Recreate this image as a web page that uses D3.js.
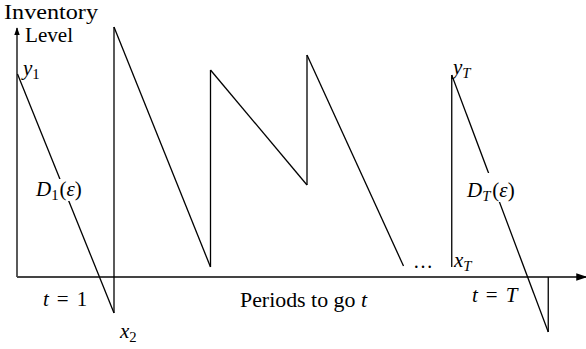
<!DOCTYPE html>
<html>
<head>
<meta charset="utf-8">
<script src="https://cdn.jsdelivr.net/npm/d3@7"></script>
<style>
  html, body { margin: 0; padding: 0; background: #fff; }
  svg { display: block; }
</style>
</head>
<body>
<svg id="chart" width="586" height="349" font-family="'Liberation Serif', 'DejaVu Serif', serif"></svg>
<script>
// Inventory trajectory over the planning horizon (periods counted as t).
// Each period starts at its order-up-to level and is depleted by demand.
const periodStart    = [0, 1, 2, 3, 4.5];
const periodEnd      = [1, 2, 3, 4, 5.5];
const orderUpTo      = [101.5, 125, 103.5, 111, 101];   // y_1 ... y_T
const endInventory   = [-18, 5, 46, 5.5, -27.5];        // x_2 ... x_{T+1}
const startInventory = [null, -18, 5, 46, 5];           // level before ordering (x_T = 5)

const svg = d3.select("#chart");

const x = d3.scaleLinear().domain([0, 1]).range([17.5, 114]);
const y = d3.scaleLinear().domain([0, 100]).range([277, 77]);

// axes
const axisColor = "#444";
svg.append("defs").append("marker")
  .attr("id", "arrow").attr("viewBox", "0 0 10 10")
  .attr("refX", 9).attr("refY", 5)
  .attr("markerWidth", 6).attr("markerHeight", 6)
  .attr("orient", "auto")
  .append("path").attr("d", "M0,1.5 L10,5 L0,8.5 Z").attr("fill", "#000");

svg.append("line")
  .attr("x1", 17).attr("y1", y(0)).attr("x2", 17).attr("y2", 28)
  .attr("stroke", "#000").attr("stroke-width", 1.3)
  .attr("marker-end", "url(#arrow)");
svg.append("line")
  .attr("x1", 17).attr("y1", y(0)).attr("x2", 586).attr("y2", y(0))
  .attr("stroke", axisColor).attr("stroke-width", 1.8)
  .attr("marker-end", "url(#arrow)");

// sawtooth path: replenishment jumps (vertical) followed by depletion (sloped)
const line = d3.line().x(d => x(d[0])).y(d => y(d[1]));
const g = svg.append("g").attr("fill", "none").attr("stroke", "#000").attr("stroke-width", 1.3);

periodStart.forEach((t0, i) => {
  if (startInventory[i] !== null) {
    g.append("path").attr("d", line([[t0, startInventory[i]], [t0, orderUpTo[i]]]));
  }
  g.append("path").attr("d", line([[t0, orderUpTo[i]], [periodEnd[i], endInventory[i]]]));
});
// final period closes back up to the axis
const last = periodEnd.length - 1;
g.append("path").attr("d", line([[periodEnd[last], endInventory[last]], [periodEnd[last], 0]]));

// math-style labels
function mathLabel(px, py, parts, opts = {}) {
  const fs = opts.size || 21;
  const t = svg.append("text").attr("x", px).attr("y", py).attr("font-size", fs);
  parts.forEach(p => {
    const s = t.append("tspan").text(p.s);
    if (p.i) s.attr("font-style", "italic");
    if (p.sub) s.attr("font-size", fs * 0.7).attr("dy", 4);
    if (p.up) s.attr("dy", -4);
    if (p.dx) s.attr("dx", p.dx);
  });
  return t;
}

// white backing behind demand labels so the line breaks around them
function backing(x0, y0, w, h) {
  svg.append("rect").attr("x", x0).attr("y", y0).attr("width", w).attr("height", h).attr("fill", "#fff");
}

svg.append("text").attr("x", 4).attr("y", 19).attr("font-size", 20)
  .attr("textLength", 94).attr("lengthAdjust", "spacingAndGlyphs").text("Inventory");
svg.append("text").attr("x", 25).attr("y", 42).attr("font-size", 20)
  .attr("textLength", 48).attr("lengthAdjust", "spacingAndGlyphs").text("Level");

mathLabel(23, 75, [{s: "y", i: true}, {s: "1", sub: true}]);

backing(34, 179, 50, 22);
mathLabel(36, 196, [{s: "D", i: true}, {s: "1", sub: true}, {s: "(", up: true, dx: 1}, {s: "ε", i: true}, {s: ")"}]);

mathLabel(43, 306, [{s: "t", i: true}, {s: "=", dx: 8}, {s: "1", dx: 8}]);
mathLabel(120, 338, [{s: "x", i: true}, {s: "2", sub: true}]);

svg.append("text").attr("x", 240).attr("y", 307).attr("font-size", 20)
  .attr("textLength", 127).attr("lengthAdjust", "spacingAndGlyphs")
  .call(t => { t.append("tspan").text("Periods to go "); t.append("tspan").attr("font-style", "italic").text("t"); });

svg.append("text").attr("x", 413).attr("y", 268).attr("font-size", 20).text("…");

mathLabel(453, 74, [{s: "y", i: true}, {s: "T", i: true, sub: true}]);
mathLabel(454, 267, [{s: "x", i: true}, {s: "T", i: true, sub: true}]);

backing(465, 173, 62, 29);
mathLabel(467, 197, [{s: "D", i: true}, {s: "T", i: true, sub: true}, {s: "(", up: true, dx: 2}, {s: "ε", i: true}, {s: ")"}]);

mathLabel(472, 302, [{s: "t", i: true}, {s: "=", dx: 8}, {s: "T", i: true, dx: 8}]);
</script>
</body>
</html>
